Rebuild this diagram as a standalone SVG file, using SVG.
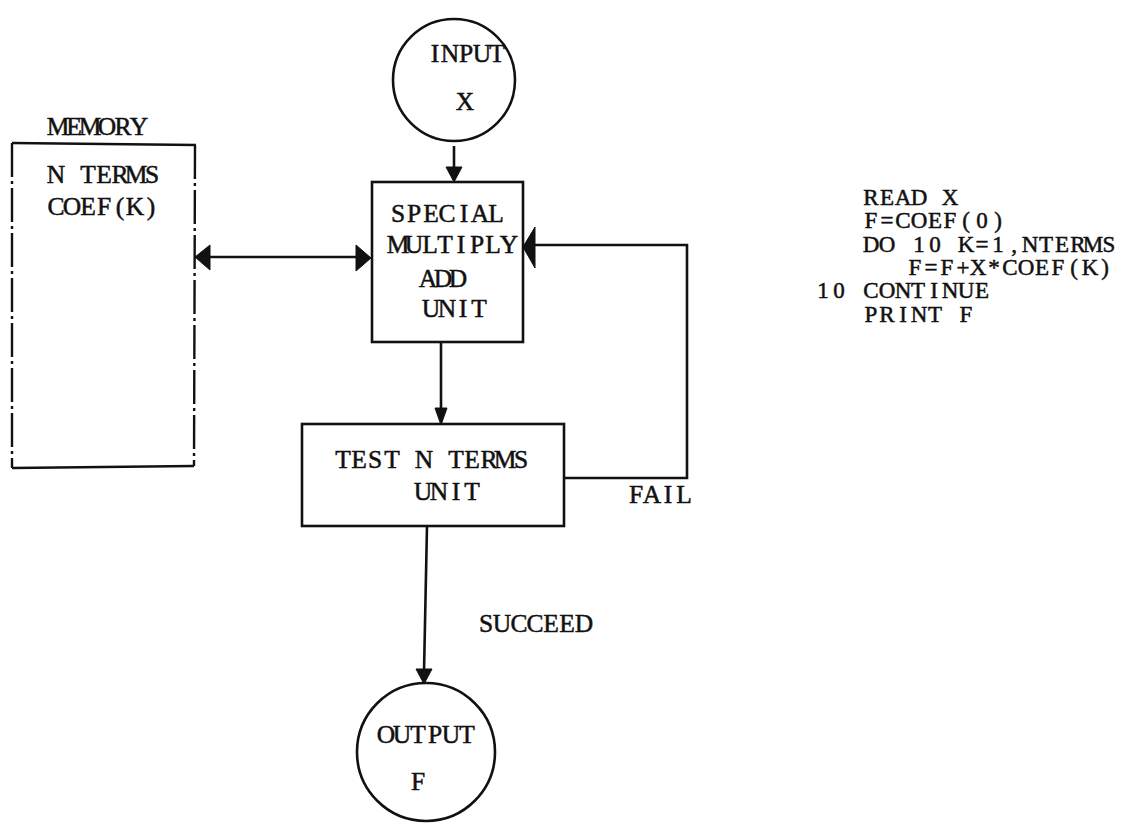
<svg xmlns="http://www.w3.org/2000/svg" width="1124" height="825" viewBox="0 0 1124 825">
<style>
text{font-family:"Liberation Serif","Times New Roman",serif;font-size:25.5px;fill:#111;stroke:#111;stroke-width:0.5;text-anchor:middle}
.code text{font-size:23px}
.ln{fill:none;stroke:#111;stroke-width:2.6}
.box{fill:#fff;stroke:#111;stroke-width:2.6}
.dash{fill:none;stroke:#111;stroke-width:2.4;stroke-dasharray:34 4 3 4}
.head{fill:#111;stroke:#111;stroke-width:1}
</style>
<rect width="1124" height="825" fill="#fff"/>
<g id="connectors">
<line class="ln" x1="454" y1="146" x2="454" y2="170"/>
<polygon class="head" points="454,182 446,167 462,167"/>
<line class="ln" x1="208" y1="257" x2="358" y2="257"/>
<polygon class="head" points="195,257 210,245 210,270"/>
<polygon class="head" points="371,258 356,245 356,271"/>
<polyline class="ln" points="564,478 687,478 687,245 532,245"/>
<path class="head" d="M523,247 L535,227 L535,268 Z"/>
<line class="ln" x1="441" y1="343" x2="441" y2="412"/>
<polygon class="head" points="441,425 435,408 447,408"/>
<line class="ln" x1="427" y1="526" x2="424" y2="672"/>
<polygon class="head" points="424,684 416,669 432,669"/>
</g>
<g id="input">
<circle class="box" cx="454" cy="80" r="61"/>
<text x="435 450 466 482 497" y="62">INPUT</text>
<text x="465" y="110">X</text>
</g>
<g id="memory">
<text x="58 74 90 107 123 139" y="135">MEMORY</text>
<line class="ln" x1="12" y1="143" x2="196" y2="145"/>
<line class="ln" x1="12" y1="468" x2="194" y2="466"/>
<line class="dash" x1="12" y1="143" x2="12" y2="468"/>
<line class="dash" x1="195" y1="145" x2="194" y2="466"/>
<text x="56 72 88 104 120 136 152" y="183">N TERMS</text>
<text x="56 72 88 104 120 135 151" y="215">COEF(K)</text>
</g>
<g id="special">
<rect class="box" x="372" y="182" width="151" height="160"/>
<text x="398 414 431 447 464 480 496" y="222">SPECIAL</text>
<text x="398 414 430 445 461 477 493 509" y="253">MULTIPLY</text>
<text x="428 443 458" y="287">ADD</text>
<text x="431 447 463 479" y="317">UNIT</text>
</g>
<g id="test">
<rect class="box" x="302" y="424" width="262" height="102"/>
<text x="343 359 375 392 408 424 440 456 472 489 505 521" y="468">TEST N TERMS</text>
<text x="423 439 456 472" y="500">UNIT</text>
</g>
<g id="labels">
<text x="636 652 668 684" y="503">FAIL</text>
<text x="486 502 519 535 551 567 584" y="632">SUCCEED</text>
</g>
<g id="output">
<circle class="box" cx="426" cy="752" r="69"/>
<text x="386 402 418 435 451 467" y="743">OUTPUT</text>
<text x="418" y="790">F</text>
</g>
<g id="code" class="code">
<text x="871 887 903 919 935 950" y="205">READ X</text>
<text x="871 887 903 919 935 950 966 982 998" y="228">F=COEF(0)</text>
<text x="871 887 903 919 935 950 966 982 998 1014 1030 1046 1062 1078 1093 1109" y="252">DO 10 K=1,NTERMS</text>
<text x="915 931 947 963 978 994 1010 1026 1042 1058 1074 1090 1105" y="275">F=F+X*COEF(K)</text>
<text x="823 839 855 871 887 903 918 934 950 966 982" y="298">10 CONTINUE</text>
<text x="871 887 903 919 935 950 966" y="322">PRINT F</text>
</g>
</svg>
